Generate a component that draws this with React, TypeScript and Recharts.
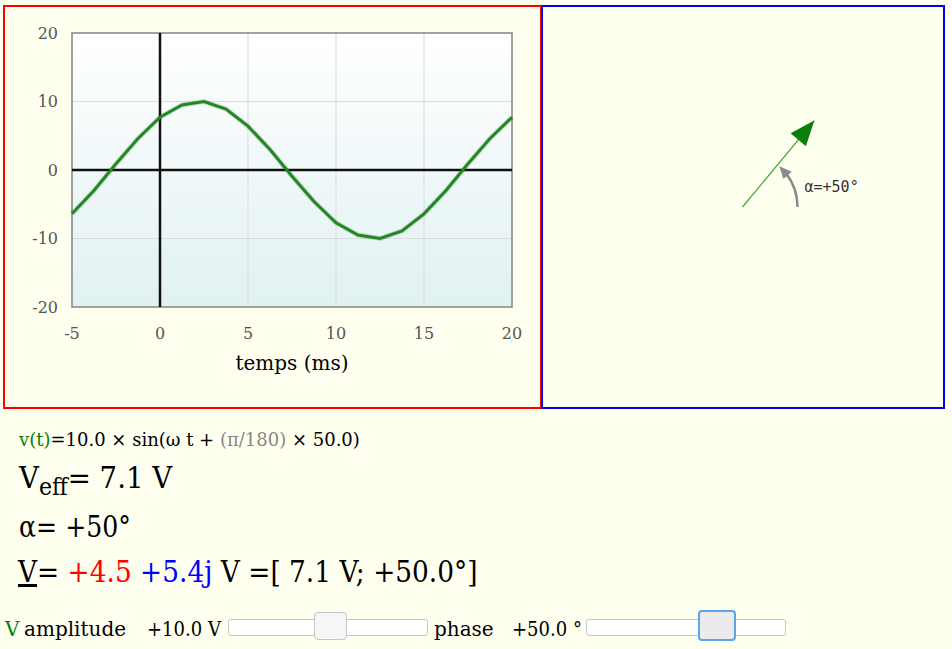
import React from 'react';
import {
  LineChart,
  Line,
  XAxis,
  YAxis,
  CartesianGrid,
  ReferenceLine,
  ReferenceArea
} from 'recharts';

const timeMs = [
  -5, -3.75, -2.5, -1.25, 0, 1.25, 2.5, 3.75, 5, 6.25, 7.5, 8.75, 10, 11.25,
  12.5, 13.75, 15, 16.25, 17.5, 18.75, 20
];
const voltage = [
  -6.4, -3.0, 0.9, 4.6, 7.7, 9.5, 10.0, 8.9, 6.4, 3.0, -0.9, -4.6, -7.7, -9.5,
  -10.0, -8.9, -6.4, -3.0, 0.9, 4.6, 7.7
];
const xTicks = [-5, 0, 5, 10, 15, 20];
const yTicks = [-20, -10, 0, 10, 20];

// phasor V = re + j im
const phasorRe = [0, 4.5];
const phasorIm = [0, 5.4];
const phaseDeg = 50;
const phaseLabel = 'α=+50°';

const waveData = timeMs.map((t, i) => ({ t, v: voltage[i] }));
const phasorData = phasorRe.map((re, i) => ({ re, im: phasorIm[i] }));

const serif = "'DejaVu Serif', serif";
const bg = '#fffff0';

const PhasorDot = (props: any) => {
  const { cx, cy, index } = props;
  const a = (phaseDeg * Math.PI) / 180;
  if (index === 0) {
    const r = 55;
    const rad = (d: number) => (d * Math.PI) / 180;
    const pt = (d: number) => [cx + r * Math.cos(rad(d)), cy - r * Math.sin(rad(d))];
    const [sx, sy] = pt(0);
    const [ex, ey] = pt(38);
    const [tx, ty] = pt(phaseDeg - 2);
    const [bx, by] = pt(35);
    const len = Math.hypot(tx - bx, ty - by);
    const nx = -(ty - by) / len;
    const ny = (tx - bx) / len;
    return (
      <g key="origin">
        <path
          d={`M${sx},${sy} A${r},${r} 0 0 0 ${ex},${ey}`}
          fill="none"
          stroke="#8a8a8a"
          strokeWidth={2.5}
        />
        <polygon
          points={`${tx},${ty} ${bx + nx * 5.5},${by + ny * 5.5} ${bx - nx * 5.5},${by - ny * 5.5}`}
          fill="#8a8a8a"
        />
        <text
          x={cx + 62}
          y={cy - 15}
          fontFamily="'DejaVu Sans Mono', monospace"
          fontSize={15}
          fill="#333"
        >
          {phaseLabel}
        </text>
      </g>
    );
  }
  const ux = Math.cos(a);
  const uy = -Math.sin(a);
  const bx = cx - ux * 25;
  const by = cy - uy * 25;
  const wx = -uy;
  const wy = ux;
  return (
    <polygon
      key="tip"
      points={`${cx},${cy} ${bx + wx * 10},${by + wy * 10} ${bx - wx * 10},${by - wy * 10}`}
      fill="#0b7d0b"
    />
  );
};

const Slider = ({ left, thumbLeft, focused }: { left: number; thumbLeft: number; focused?: boolean }) => (
  <>
    <div
      style={{
        position: 'absolute',
        left,
        top: 619,
        width: 200,
        height: 17,
        boxSizing: 'border-box',
        border: '1px solid #c5c5c5',
        borderRadius: 3,
        background: '#fff'
      }}
    />
    <div
      style={{
        position: 'absolute',
        left: thumbLeft,
        top: focused ? 610 : 612,
        width: focused ? 38 : 33,
        height: focused ? 31 : 28,
        boxSizing: 'border-box',
        border: focused ? '2px solid #5aa7e8' : '1px solid #c5c5c5',
        borderRadius: 4,
        background: focused ? '#ebebeb' : '#f6f6f6'
      }}
    />
  </>
);

export default function App() {
  // the reference face is narrower than DejaVu Serif, squeeze wide lines
  const line = (top: number, size: number, sx = 1): React.CSSProperties => ({
    position: 'absolute',
    left: 19,
    top,
    fontSize: size,
    lineHeight: `${size}px`,
    whiteSpace: 'nowrap',
    transform: `scaleX(${sx})`,
    transformOrigin: 'left center'
  });

  return (
    <div
      style={{
        position: 'absolute',
        left: 0,
        top: 0,
        width: 952,
        height: 649,
        background: bg,
        fontFamily: serif,
        color: '#000',
        overflow: 'hidden'
      }}
    >
      <svg width={0} height={0} style={{ position: 'absolute' }}>
        <defs>
          <linearGradient id="plotBg" x1="0" y1="0" x2="0" y2="1">
            <stop offset="0%" stopColor="#ffffff" />
            <stop offset="100%" stopColor="#e1f1f2" />
          </linearGradient>
        </defs>
      </svg>

      <div
        style={{
          position: 'absolute',
          left: 3,
          top: 5,
          width: 539,
          height: 404,
          boxSizing: 'border-box',
          border: '2px solid #ff0000'
        }}
      />
      <div
        style={{
          position: 'absolute',
          left: 541,
          top: 5,
          width: 404,
          height: 404,
          boxSizing: 'border-box',
          border: '2px solid #0000ff'
        }}
      />

      <div style={{ position: 'absolute', left: 0, top: 0 }}>
        <LineChart
          width={541}
          height={408}
          data={waveData}
          margin={{ top: 33, right: 29, left: 22, bottom: 61 }}
        >
          <CartesianGrid stroke="#d9dcdd" fill="url(#plotBg)" />
          <XAxis
            dataKey="t"
            type="number"
            domain={[-5, 20]}
            ticks={xTicks}
            height={40}
            axisLine={false}
            tickLine={false}
            tickSize={6}
            tickMargin={15}
            tick={{ fill: '#555', fontSize: 16, fontFamily: serif }}
            label={{
              value: 'temps (ms)',
              position: 'bottom',
              offset: 9,
              fill: '#000',
              fontSize: 20,
              fontFamily: serif
            }}
          />
          <YAxis
            type="number"
            domain={[-20, 20]}
            ticks={yTicks}
            width={50}
            axisLine={false}
            tickLine={false}
            tickSize={6}
            tickMargin={8}
            tick={{ fill: '#555', fontSize: 16, fontFamily: serif }}
          />
          <ReferenceArea
            x1={-5}
            x2={20}
            y1={-20}
            y2={20}
            fill="none"
            stroke="#888"
            strokeWidth={1.5}
            ifOverflow="visible"
          />
          <ReferenceLine x={0} stroke="#111" strokeWidth={2.5} />
          <ReferenceLine y={0} stroke="#111" strokeWidth={2.5} />
          <Line
            dataKey="v"
            type="linear"
            stroke="rgba(0,0,0,0.13)"
            strokeWidth={5}
            dot={false}
            activeDot={false}
            isAnimationActive={false}
          />
          <Line
            dataKey="v"
            type="linear"
            stroke="#1f8a1f"
            strokeWidth={3}
            dot={false}
            activeDot={false}
            isAnimationActive={false}
          />
        </LineChart>
      </div>

      <div style={{ position: 'absolute', left: 543, top: 7 }}>
        <LineChart
          width={399}
          height={400}
          data={phasorData}
          margin={{ top: 0, right: 0, left: 0, bottom: 0 }}
        >
          <XAxis dataKey="re" type="number" domain={[-12.5, 12.5]} hide />
          <YAxis type="number" domain={[-12.5, 12.5]} hide />
          <Line
            dataKey="im"
            type="linear"
            stroke="#3aaa3a"
            strokeWidth={1.2}
            dot={PhasorDot}
            activeDot={false}
            isAnimationActive={false}
          />
        </LineChart>
      </div>

      <div style={line(431, 18)}>
        <span style={{ color: '#008000' }}>v(t)</span>=10.0 × sin(ω t +{' '}
        <span style={{ color: '#888' }}>(π/180)</span> × 50.0)
      </div>
      <div style={line(463, 30, 0.92)}>
        V<span style={{ fontSize: 24, position: 'relative', top: 7 }}>eff</span>= 7.1 V
      </div>
      <div style={line(512, 30, 0.84)}>α= +50°</div>
      <div style={{ ...line(557, 30, 0.88), left: 18 }}>
        <span style={{ textDecoration: 'underline' }}>V</span>={' '}
        <span style={{ color: '#ff0000' }}>+4.5</span>{' '}
        <span style={{ color: '#0000ff' }}>+5.4j</span> V =[ 7.1 V; +50.0°]
      </div>

      <div style={{ ...line(619, 20), left: 5, color: '#008000' }}>V</div>
      <div style={{ ...line(619, 20), left: 24 }}>amplitude</div>
      <div style={{ ...line(619, 20, 0.9), left: 147 }}>+10.0 V</div>
      <Slider left={228} thumbLeft={314} />
      <div style={{ ...line(619, 20), left: 434 }}>phase</div>
      <div style={{ ...line(619, 20, 0.9), left: 512 }}>+50.0 °</div>
      <Slider left={586} thumbLeft={698} focused />
    </div>
  );
}
